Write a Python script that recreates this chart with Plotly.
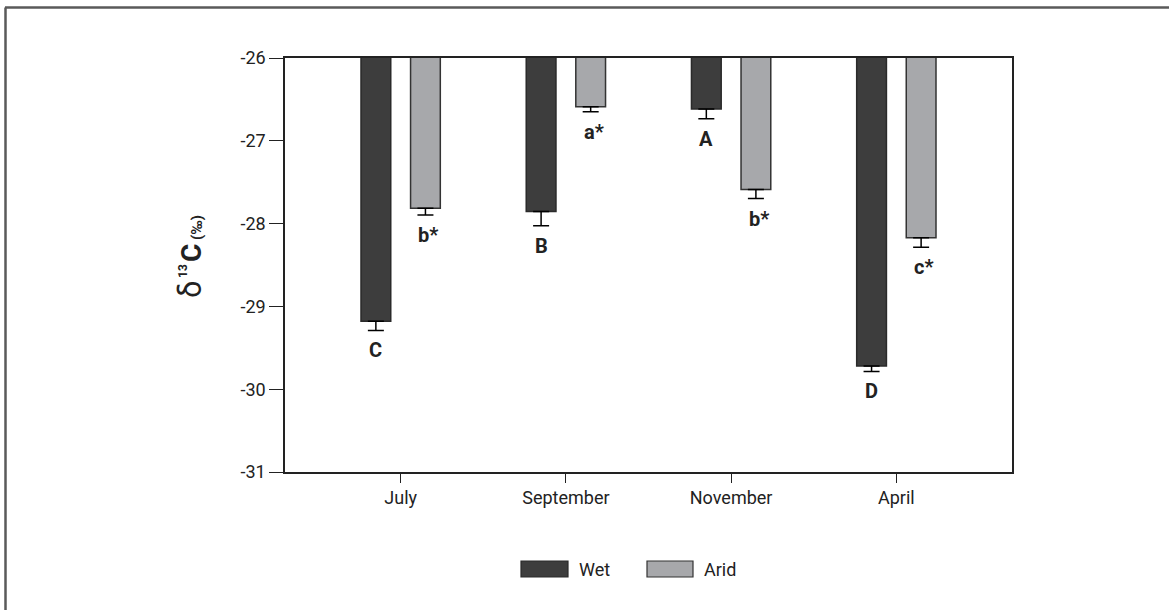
import plotly.graph_objects as go

months = ["July", "September", "November", "April"]
wet = [-29.18, -27.855, -26.615, -29.72]
wet_err = [0.11, 0.17, 0.12, 0.065]
arid = [-27.815, -26.59, -27.587, -28.17]
arid_err = [0.08, 0.06, 0.11, 0.115]
wet_letters = ["C", "B", "A", "D"]
arid_letters = ["b*", "a*", "b*", "c*"]
y_ticks = [-26, -27, -28, -29, -30, -31]
series_names = ["Wet", "Arid"]

FONT = "Roboto, Liberation Sans, sans-serif"
WET_C = "#3d3d3d"
ARID_C = "#a7a8ab"
TXT = "#222222"

# plot area in page pixels
L, R, T, B = 285, 1012, 58, 472
W, H = R - L, B - T


def px(x):
    return (x - L) / W


def py(y):
    return (B - y) / H


fig = go.Figure()
fig.add_trace(go.Bar(
    x=months, y=wet, name=series_names[0], width=0.18, offset=-0.24,
    marker=dict(color=WET_C, line=dict(color="#2a2a2a", width=1.5)),
    error_y=dict(type="data", symmetric=False, array=[0] * 4, arrayminus=wet_err,
                 color="black", thickness=1.5, width=8),
    showlegend=False,
))
fig.add_trace(go.Bar(
    x=months, y=arid, name=series_names[1], width=0.18, offset=0.06,
    marker=dict(color=ARID_C, line=dict(color="#333333", width=1.5)),
    error_y=dict(type="data", symmetric=False, array=[0] * 4, arrayminus=arid_err,
                 color="black", thickness=1.5, width=8),
    showlegend=False,
))

annotations = []
for i, (v, e, t) in enumerate(zip(wet, wet_err, wet_letters)):
    annotations.append(dict(x=i - 0.15, y=v - e, xref="x", yref="y", text=f"<b>{t}</b>",
                            showarrow=False, yanchor="top", yshift=-6,
                            font=dict(family=FONT, size=20, color=TXT)))
for i, (v, e, t) in enumerate(zip(arid, arid_err, arid_letters)):
    annotations.append(dict(x=i + 0.15, y=v - e, xref="x", yref="y", text=f"<b>{t}</b>",
                            showarrow=False, yanchor="top", yshift=-6, xshift=3,
                            font=dict(family=FONT, size=20, color=TXT)))

# y-axis title built from pieces: δ, superscript 13, C, (‰)
title_parts = [("δ", 31, 190, 289), ("<b>13</b>", 12, 183, 271),
               ("<b>C</b>", 28, 191, 253), ("<b>(‰)</b>", 15, 197, 228)]
for txt, size, cx, cy in title_parts:
    annotations.append(dict(
        x=px(cx), y=py(cy), xref="paper", yref="paper", textangle=-90,
        showarrow=False, xanchor="center", yanchor="middle",
        text=txt, font=dict(family=FONT, size=size, color=TXT),
    ))

# custom legend with wide swatches
legend_items = [(series_names[0], WET_C, "#2a2a2a", 521, 568),
                (series_names[1], ARID_C, "#333333", 647, 693)]
shapes = []
for name, fill, edge, x0, x1 in legend_items:
    shapes.append(dict(type="rect", xref="paper", yref="paper",
                       x0=px(x0), x1=px(x1), y0=py(577), y1=py(561),
                       fillcolor=fill, line=dict(color=edge, width=1.2)))
    annotations.append(dict(x=px(x1 + 9), y=py(569), xref="paper", yref="paper",
                            text=name, showarrow=False, xanchor="left", yanchor="middle",
                            font=dict(family=FONT, size=18, color=TXT)))

# page border lines (top and left)
shapes.append(dict(type="line", xref="paper", yref="paper", x0=px(5), x1=px(1169),
                   y0=py(7.5), y1=py(7.5), line=dict(color="#5a5a5a", width=2.5)))
shapes.append(dict(type="line", xref="paper", yref="paper", x0=px(5.5), x1=px(5.5),
                   y0=py(7.5), y1=py(610), line=dict(color="#5a5a5a", width=2.5)))

fig.update_layout(
    width=1169, height=610,
    margin=dict(l=L, r=1169 - R, t=T, b=610 - B),
    paper_bgcolor="white", plot_bgcolor="white",
    font=dict(family=FONT, size=17, color=TXT),
    showlegend=False,
    annotations=annotations,
    shapes=shapes,
)
fig.update_xaxes(
    type="category", categoryorder="array", categoryarray=months,
    range=[-0.7, 3.7], showline=True, linecolor=TXT, linewidth=1.5, mirror=True,
    ticks="outside", ticklen=9, tickwidth=1.3, tickcolor=TXT,
    showgrid=False, zeroline=False, tickfont=dict(size=18),
)
fig.update_yaxes(
    range=[-31, -26], tickvals=y_ticks, ticktext=[str(t) for t in y_ticks],
    showline=True, linecolor=TXT, linewidth=1.5, mirror=True,
    ticks="outside", ticklen=14, tickwidth=1.3, tickcolor=TXT,
    showgrid=False, zeroline=False, tickfont=dict(size=18),
)

fig.write_html("out.html", config={"displayModeBar": False},
               post_script="document.body.style.margin='0';")
